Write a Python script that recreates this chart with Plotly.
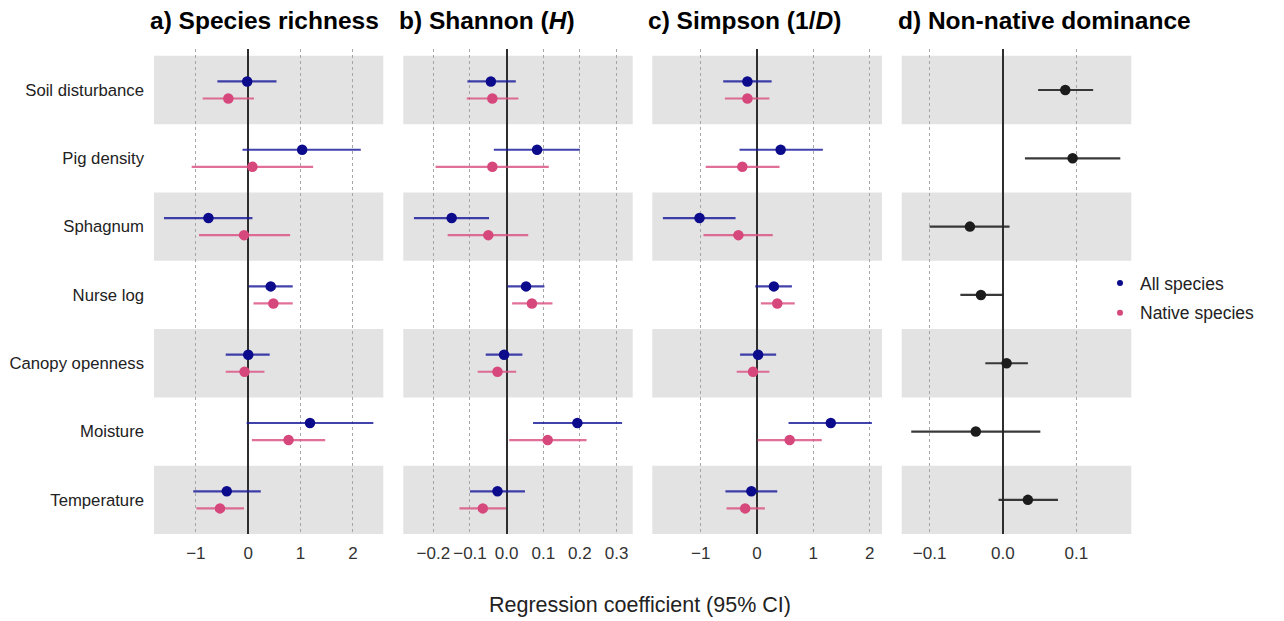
import plotly.graph_objects as go

categories = ["Soil disturbance", "Pig density", "Sphagnum", "Nurse log",
              "Canopy openness", "Moisture", "Temperature"]

# a) Species richness
rich_all_est = [-0.02, 1.03, -0.76, 0.43, 0.00, 1.18, -0.41]
rich_all_lo = [-0.59, -0.11, -1.61, 0.01, -0.43, -0.03, -1.05]
rich_all_hi = [0.54, 2.15, 0.08, 0.85, 0.41, 2.39, 0.24]
rich_nat_est = [-0.38, 0.08, -0.08, 0.48, -0.07, 0.77, -0.54]
rich_nat_lo = [-0.87, -1.08, -0.94, 0.10, -0.43, 0.07, -0.99]
rich_nat_hi = [0.11, 1.24, 0.80, 0.85, 0.31, 1.47, -0.08]

# b) Shannon (H)
shan_all_est = [-0.043, 0.083, -0.150, 0.053, -0.007, 0.193, -0.025]
shan_all_lo = [-0.107, -0.035, -0.253, 0.002, -0.057, 0.072, -0.100]
shan_all_hi = [0.025, 0.200, -0.048, 0.103, 0.043, 0.315, 0.050]
shan_nat_est = [-0.039, -0.039, -0.050, 0.069, -0.025, 0.112, -0.065]
shan_nat_lo = [-0.109, -0.194, -0.161, 0.015, -0.079, 0.007, -0.129]
shan_nat_hi = [0.032, 0.115, 0.059, 0.125, 0.026, 0.218, -0.002]

# c) Simpson (1/D)
simp_all_est = [-0.17, 0.42, -1.02, 0.30, 0.02, 1.31, -0.10]
simp_all_lo = [-0.60, -0.31, -1.67, -0.03, -0.30, 0.56, -0.56]
simp_all_hi = [0.26, 1.17, -0.38, 0.62, 0.34, 2.04, 0.36]
simp_nat_est = [-0.17, -0.26, -0.33, 0.36, -0.07, 0.58, -0.21]
simp_nat_lo = [-0.57, -0.91, -0.95, 0.07, -0.36, 0.01, -0.54]
simp_nat_hi = [0.22, 0.40, 0.28, 0.67, 0.22, 1.15, 0.14]

# d) Non-native dominance
dom_est = [0.085, 0.095, -0.045, -0.030, 0.005, -0.037, 0.034]
dom_lo = [0.048, 0.030, -0.100, -0.058, -0.024, -0.125, -0.006]
dom_hi = [0.123, 0.160, 0.009, 0.000, 0.034, 0.051, 0.075]

panel_titles = ["<b>a) Species richness</b>", "<b>b) Shannon (<i>H</i>)</b>",
                "<b>c) Simpson (1/<i>D</i>)</b>", "<b>d) Non-native dominance</b>"]
x_ranges = [[-1.80, 2.58], [-0.282, 0.344], [-1.858, 2.219], [-0.138, 0.175]]
x_dticks = [1, 0.1, 1, 0.1]
x_tickformats = ["d", ".1f", "d", ".1f"]
domains = [[154 / 1284, 383.3 / 1284], [403.3 / 1284, 632.7 / 1284],
           [652.3 / 1284, 882 / 1284], [901.7 / 1284, 1131.3 / 1284]]

W, H = 1284, 621
BLUE = "#0B0B8C"
BLUE_LINE = "rgba(25,25,155,0.82)"
PINK = "#D6487C"
PINK_LINE = "rgba(218,80,130,0.82)"
BLACK = "#1C1C1C"
BLACK_LINE = "rgba(35,35,35,0.9)"
BAND = "#E3E3E3"
FONT = "Liberation Sans, Arial, Helvetica, sans-serif"

rows = list(range(1, len(categories) + 1))
OFF = 0.125

fig = go.Figure()


def add_series(n, est, lo, hi, dy, col, lcol):
    ax = "" if n == 1 else str(n)
    ys = [r + dy for r in rows]
    fig.add_trace(go.Scatter(
        x=est, y=ys, mode="markers",
        marker=dict(color=col, size=10.5),
        error_x=dict(type="data", symmetric=False,
                     array=[h - e for h, e in zip(hi, est)],
                     arrayminus=[e - l for e, l in zip(est, lo)],
                     color=lcol, thickness=2.2, width=0),
        xaxis="x" + ax, yaxis="y" + ax, showlegend=False, hoverinfo="skip"))


add_series(1, rich_all_est, rich_all_lo, rich_all_hi, -OFF, BLUE, BLUE_LINE)
add_series(1, rich_nat_est, rich_nat_lo, rich_nat_hi, OFF, PINK, PINK_LINE)
add_series(2, shan_all_est, shan_all_lo, shan_all_hi, -OFF, BLUE, BLUE_LINE)
add_series(2, shan_nat_est, shan_nat_lo, shan_nat_hi, OFF, PINK, PINK_LINE)
add_series(3, simp_all_est, simp_all_lo, simp_all_hi, -OFF, BLUE, BLUE_LINE)
add_series(3, simp_nat_est, simp_nat_lo, simp_nat_hi, OFF, PINK, PINK_LINE)
add_series(4, dom_est, dom_lo, dom_hi, 0.0, BLACK, BLACK_LINE)

# legend entries
fig.add_trace(go.Scatter(x=[None], y=[None], mode="markers", name="All species",
                         marker=dict(color=BLUE, size=6), legendgroup="a"))
fig.add_trace(go.Scatter(x=[None], y=[None], mode="markers", name="Native species",
                         marker=dict(color=PINK, size=6), legendgroup="b"))

top_px, bot_px = 49, 534
ydom = [1 - bot_px / H, 1 - top_px / H]

layout = dict(
    width=W, height=H, margin=dict(l=0, r=0, t=0, b=0),
    paper_bgcolor="white", plot_bgcolor="white",
    font=dict(family=FONT, color="#222222", size=16),
    legend=dict(x=1100 / W, y=1 - 298 / H, xanchor="left", yanchor="middle",
                font=dict(size=17.5, color="#222222"), tracegroupgap=4,
                bgcolor="rgba(0,0,0,0)"),
)

shapes = []
annotations = []
for i in range(4):
    n = i + 1
    ax = "" if n == 1 else str(n)
    layout["xaxis" + ax] = dict(
        domain=domains[i], range=x_ranges[i], anchor="y" + ax,
        dtick=x_dticks[i], tick0=0, tickformat=x_tickformats[i],
        showgrid=True, gridcolor="#A6A6A6", gridwidth=0.9, griddash="3px,3px",
        zeroline=True, zerolinecolor="#2E2E2E", zerolinewidth=1.6,
        showline=False, ticks="", ticklabelstandoff=7,
        tickfont=dict(size=17, color="#333333"), fixedrange=True)
    layout["yaxis" + ax] = dict(
        domain=ydom, range=[7.5, 0.4], anchor="x" + ax,
        tickvals=rows, ticktext=categories if n == 1 else [""] * len(rows),
        showticklabels=(n == 1), showgrid=False, zeroline=False, showline=False,
        ticks="", ticklabelstandoff=9,
        tickfont=dict(size=16.7, color="#222222"), fixedrange=True)
    for r in rows[::2]:
        shapes.append(dict(type="rect", xref="x" + ax + " domain", yref="y" + ax,
                           x0=0, x1=1, y0=r - 0.5, y1=r + 0.5,
                           fillcolor=BAND, line=dict(width=0), layer="below"))
    annotations.append(dict(text=panel_titles[i], xref="paper", yref="paper",
                            x=(domains[i][0] * W - 6) / W, y=1 - 20 / H,
                            xanchor="left", yanchor="middle", showarrow=False,
                            font=dict(size=24.5, color="black", family=FONT)))

annotations.append(dict(text="Regression coefficient (95% CI)", xref="paper", yref="paper",
                        x=640 / W, y=1 - 605 / H, xanchor="center", yanchor="middle",
                        showarrow=False, font=dict(size=21.5, color="#222222", family=FONT)))

layout["shapes"] = shapes
layout["annotations"] = annotations
fig.update_layout(**layout)

fig.write_html("out.html")
